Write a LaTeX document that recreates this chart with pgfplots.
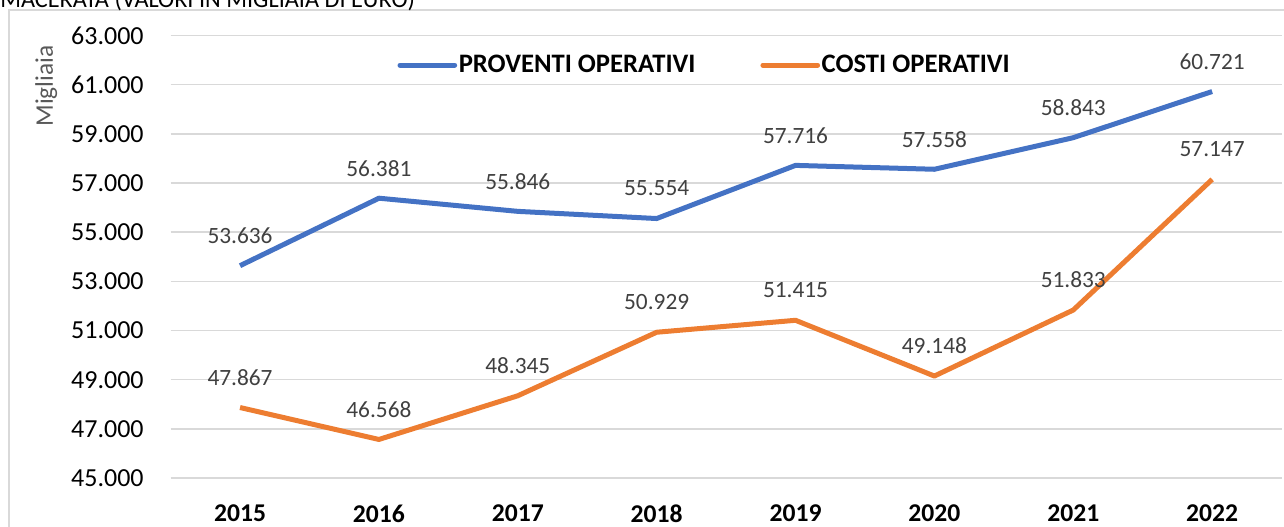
\documentclass[border=0pt]{standalone}
\usepackage{fontspec}
\setmainfont{Carlito}
\usepackage{graphicx}
\usepackage{pgfplots}
\pgfplotsset{compat=1.18}
\definecolor{bluec}{HTML}{4472C4}
\definecolor{orangec}{HTML}{ED7D31}
\definecolor{gridc}{HTML}{D9D9D9}
\definecolor{labc}{HTML}{404040}
\definecolor{ylabc}{HTML}{595959}
\begin{document}
\begin{tikzpicture}
\useasboundingbox (0,0) rectangle (963pt,-394.5pt);
\clip (0,0) rectangle (963pt,-394.5pt);
\draw[gridc, line width=1.1pt] (6.75pt,-400pt) -- (6.75pt,-7.5pt) -- (970pt,-7.5pt);
\node[anchor=base west, inner sep=0pt] at (0pt,-5.25pt) {\resizebox{311pt}{!}{MACERATA (VALORI IN MIGLIAIA DI EURO)}};
\begin{axis}[
  at={(127.95pt,-358.5pt)}, anchor=south west,
  scale only axis, width=833.25pt, height=331.9pt,
  xmin=-0.5, xmax=7.5, ymin=45000, ymax=63000,
  clip=false,
  /pgf/number format/assume math mode=true,
  axis line style={draw=none}, tick style={draw=none},
  major tick length=0pt,
  ymajorgrids, grid style={gridc, line width=1.1pt},
  xtick={0,...,7},
  xticklabels={2015,2016,2017,2018,2019,2020,2021,2022},
  xticklabel style={font=\fontsize{19.2}{23}\selectfont\bfseries, inner sep=0pt, anchor=north, yshift=-20pt},
  ytick={45000,47000,...,63000},
  scaled y ticks=false,
  yticklabel style={font=\fontsize{19.5}{23}\selectfont, inner sep=0pt, anchor=east, xshift=-20pt,
    /pgf/number format/.cd, fixed, precision=0, 1000 sep={.}},
  ylabel={Migliaia},
  ylabel style={at={(rel axis cs:-0.112,0.886)}, anchor=center, font=\fontsize{19}{23}\selectfont, text=ylabc, inner sep=0pt},
  nodes near coords={\pgfmathprintnumber[fixed, precision=0, 1000 sep={.}, assume math mode=true]{\pgfplotspointmeta}},
  nodes near coords style={font=\fontsize{17.5}{21}\selectfont, text=labc, anchor=center, yshift=22.5pt, inner sep=0pt},
  legend style={at={(rel axis cs:0.204,0.933)}, anchor=west, draw=none, fill=none,
    legend columns=2, inner sep=0pt, nodes={inner sep=1.2pt},
    font=\fontsize{20}{24}\selectfont\bfseries,
    /tikz/every even column/.append style={column sep=47.5pt}},
  legend image code/.code={\draw[#1, line cap=round] (0pt,0pt) -- (41pt,0pt);},
]
\addplot[bluec, line width=3.75pt, line join=round] coordinates {
(0,53636) (1,56381) (2,55846) (3,55554) (4,57716) (5,57558) (6,58843) (7,60721)};
\addlegendentry{PROVENTI OPERATIVI}
\addplot[orangec, line width=3.75pt, line join=round] coordinates {
(0,47867) (1,46568) (2,48345) (3,50929) (4,51415) (5,49148) (6,51833) (7,57147)};
\addlegendentry{COSTI OPERATIVI}
\end{axis}
\end{tikzpicture}
\end{document}
